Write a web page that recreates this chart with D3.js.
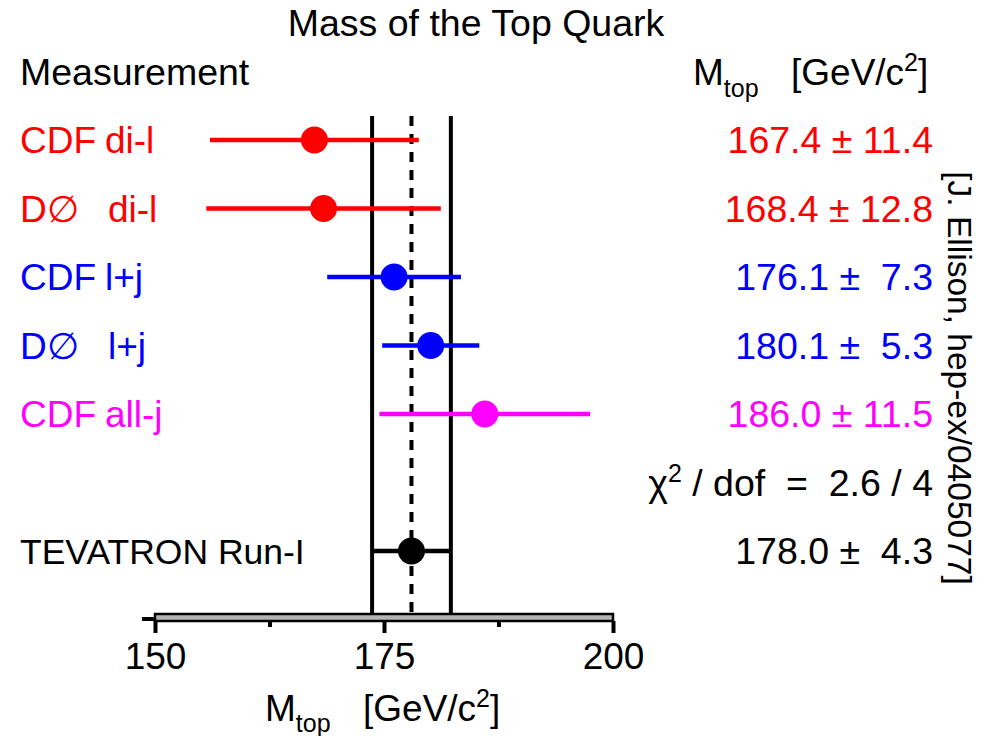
<!DOCTYPE html>
<html>
<head>
<meta charset="utf-8">
<script src="https://cdn.jsdelivr.net/npm/d3@7"></script>
<style>
  html, body { margin: 0; padding: 0; background: #fff; }
  svg text { font-family: "Liberation Sans", Arial, Helvetica, sans-serif; white-space: pre; }
</style>
</head>
<body>
<script>
// ---- data ----
const title = "Mass of the Top Quark";
const expNames   = ["CDF", "D\u2205", "CDF", "D\u2205", "CDF", "TEVATRON Run-I"];
const channels   = ["di-l", "di-l", "l+j", "l+j", "all-j", ""];
const rowIndex   = [0, 1, 2, 3, 4, 6];
const massValues = [167.4, 168.4, 176.1, 180.1, 186.0, 178.0];
const massErrors = [11.4, 12.8, 7.3, 5.3, 11.5, 4.3];
const rowColors  = ["#ff0000", "#ff0000", "#0000ff", "#0000ff", "#ff00ff", "#000000"];
const combinedValue = 178.0;
const combinedError = 4.3;
const chi2Text = ["2.6", "4"];
const chi2Row = 5;
const majorTicks = [150, 175, 200];
const minorTicks = [162.5, 187.5];
const reference = "[J. Ellison, hep-ex/0405077]";

// ---- layout ----
const W = 984, H = 736;
const FS = 37;
const svg = d3.select("body").append("svg").attr("width", W).attr("height", H);

const x = d3.scaleLinear().domain([150, 200]).range([155, 613]);
const y = d3.scaleLinear().domain([0, 6]).range([140, 551]);
const axisY = 613;
const valueRight = 933;

// Title
svg.append("text").attr("x", 476).attr("y", 36).attr("text-anchor", "middle")
  .attr("font-size", 37.5).text(title);
svg.append("text").attr("x", 20).attr("y", 85).attr("font-size", 37.5).text("Measurement");

// Header for values
const hdr = svg.append("text").attr("x", 693).attr("y", 85).attr("font-size", FS);
hdr.append("tspan").text("M");
hdr.append("tspan").attr("font-size", 25).attr("dy", 12).text("top");
hdr.append("tspan").attr("x", 791).attr("dy", -12).text("[GeV/c");
hdr.append("tspan").attr("font-size", 25).attr("dy", -14).text("2");
hdr.append("tspan").attr("dy", 14).text("]");

// Vertical band lines
const lineTop = 116;
[combinedValue - combinedError, combinedValue + combinedError].forEach(v => {
  svg.append("line").attr("x1", x(v)).attr("x2", x(v)).attr("y1", lineTop).attr("y2", axisY + 2)
    .attr("stroke", "#000").attr("stroke-width", 4);
});
svg.append("line").attr("x1", x(combinedValue)).attr("x2", x(combinedValue))
  .attr("y1", lineTop).attr("y2", axisY + 2)
  .attr("stroke", "#000").attr("stroke-width", 4).attr("stroke-dasharray", "10,8");

// Rows
const rows = massValues.map((v, i) => ({
  name: expNames[i], ch: channels[i], row: rowIndex[i], v, e: massErrors[i], c: rowColors[i]
}));

const g = svg.append("g");
g.selectAll("line.err").data(rows).join("line").attr("class", "err")
  .attr("x1", d => x(d.v - d.e)).attr("x2", d => x(d.v + d.e))
  .attr("y1", d => y(d.row)).attr("y2", d => y(d.row))
  .attr("stroke", d => d.c).attr("stroke-width", 4.5);
g.selectAll("circle").data(rows).join("circle")
  .attr("cx", d => x(d.v)).attr("cy", d => y(d.row)).attr("r", 13.5)
  .attr("fill", d => d.c);

// Labels
const lab = g.selectAll("text.lab").data(rows).join("text").attr("class", "lab")
  .attr("x", 20).attr("y", d => y(d.row) + 13)
  .attr("font-size", d => d.ch ? FS : 35.5).attr("fill", d => d.c);
lab.append("tspan").text(d => d.name);
lab.append("tspan").attr("x", d => d.name === "CDF" ? 105 : 108).text(d => d.ch);

// Values
const fmtErr = e => (e < 10 ? " " : "") + e.toFixed(1);
g.selectAll("text.val").data(rows).join("text").attr("class", "val")
  .attr("x", valueRight).attr("y", d => y(d.row) + 13).attr("text-anchor", "end")
  .attr("font-size", 37.5).attr("fill", d => d.c)
  .text(d => d.v.toFixed(1) + " \u00B1 " + fmtErr(d.e));

// chi2
const chi = svg.append("text").attr("x", valueRight).attr("y", y(chi2Row) + 13)
  .attr("text-anchor", "end").attr("font-size", 37.5);
chi.append("tspan").text("\u03C7");
chi.append("tspan").attr("font-size", 25).attr("dy", -14).text("2");
chi.append("tspan").attr("dy", 14).text(" / dof  =  " + chi2Text[0] + " / " + chi2Text[1]);

// Axis
svg.append("line").attr("x1", x(150) - 13).attr("x2", x(150)).attr("y1", axisY + 6).attr("y2", axisY + 6)
  .attr("stroke", "#000").attr("stroke-width", 4);
svg.append("rect").attr("x", x(150)).attr("y", axisY + 1).attr("width", x(200) - x(150)).attr("height", 7)
  .attr("fill", "#b4b4b4").attr("stroke", "#000").attr("stroke-width", 2.5);

const axMajor = svg.append("g").attr("transform", `translate(0,${axisY + 8})`)
  .call(d3.axisBottom(x).tickValues(majorTicks).tickSize(12).tickPadding(10).tickFormat(d3.format("d")));
axMajor.select(".domain").remove();
axMajor.selectAll(".tick line").attr("stroke", "#000").attr("stroke-width", 4);
axMajor.selectAll(".tick text").attr("font-size", FS).attr("fill", "#000")
  .attr("font-family", "Liberation Sans, Arial, sans-serif");

const axMinor = svg.append("g").attr("transform", `translate(0,${axisY + 8})`)
  .call(d3.axisBottom(x).tickValues(minorTicks).tickSize(6).tickFormat(""));
axMinor.select(".domain").remove();
axMinor.selectAll(".tick line").attr("stroke", "#000").attr("stroke-width", 4);

// Axis title
const at = svg.append("text").attr("x", 265).attr("y", 721).attr("font-size", FS);
at.append("tspan").text("M");
at.append("tspan").attr("font-size", 25).attr("dy", 11).text("top");
at.append("tspan").attr("x", 363).attr("dy", -11).text("[GeV/c");
at.append("tspan").attr("font-size", 25).attr("dy", -14).text("2");
at.append("tspan").attr("dy", 14).text("]");

// Reference, rotated
svg.append("text").attr("transform", "translate(948,378) rotate(90)")
  .attr("text-anchor", "middle").attr("font-size", 33.5).text(reference);
</script>
</body>
</html>
